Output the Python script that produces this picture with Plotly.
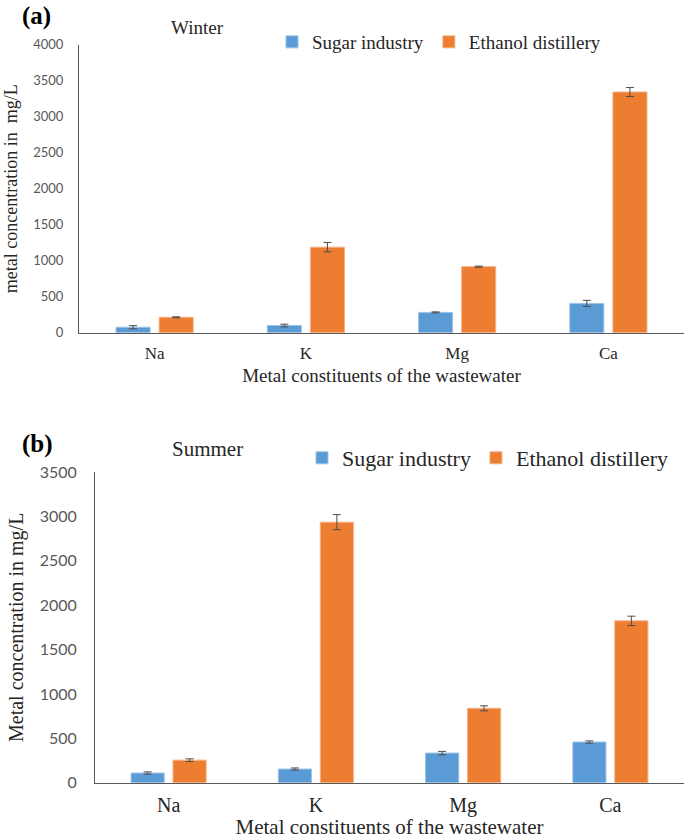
import plotly.graph_objects as go

metals = ["Na", "K", "Mg", "Ca"]

winter_sugar = [76, 100, 282, 407]
winter_sugar_err = [22, 18, 7, 42]
winter_ethanol = [214, 1188, 917, 3343]
winter_ethanol_err = [7, 65, 8, 62]

summer_sugar = [109, 154, 334, 458]
summer_sugar_err = [13, 12, 19, 13]
summer_ethanol = [254, 2935, 838, 1823]
summer_ethanol_err = [15, 85, 28, 53]

BLUE = "#5B9BD5"
ORANGE = "#ED7D31"
SERIF = "Liberation Serif"
SANS = "Lato"
W, H = 685, 839

fig = go.Figure()

def add(x, y, err, name, color, edge, xa, ya, legend):
    fig.add_trace(go.Bar(
        x=x, y=y, name=name, xaxis=xa, yaxis=ya, legend=legend,
        marker=dict(color=color, line=dict(color=edge, width=1)),
        error_y=dict(type="data", array=err, visible=True, color="#4d4d4d",
                     thickness=1, width=4),
        showlegend=True,
    ))

add(metals, winter_sugar, winter_sugar_err, "Sugar industry", BLUE, "#9DC3E6", "x", "y", "legend")
add(metals, winter_ethanol, winter_ethanol_err, "Ethanol distillery", ORANGE, "#F4B183", "x", "y", "legend")
add(metals, summer_sugar, summer_sugar_err, "Sugar industry", BLUE, "#9DC3E6", "x2", "y2", "legend2")
add(metals, summer_ethanol, summer_ethanol_err, "Ethanol distillery", ORANGE, "#F4B183", "x2", "y2", "legend2")

def py(p):
    return 1 - p / H

axis_common = dict(showgrid=False, zeroline=False, showline=True, linecolor="#595959",
                   linewidth=1, automargin=False)

def label(text, x, y, size, bold=False, color="#262626"):
    return dict(text=f"<b>{text}</b>" if bold else text, x=x / W, y=py(y),
                xref="paper", yref="paper", xanchor="center", yanchor="middle",
                showarrow=False, font=dict(family=SERIF, size=size, color=color))

fig.update_layout(
    width=W, height=H, autosize=False,
    margin=dict(l=0, r=0, t=0, b=0, autoexpand=False),
    paper_bgcolor="white", plot_bgcolor="white",
    barmode="group", bargap=0.43, bargroupgap=0.21,
    xaxis=dict(domain=[79 / W, 684 / W], anchor="y", type="category",
               ticks="", ticklabelstandoff=5,
               tickfont=dict(family=SERIF, size=17, color="#262626"),
               title=dict(text="Metal constituents of the wastewater", standoff=6,
                          font=dict(family=SERIF, size=19, color="#262626")),
               **axis_common),
    yaxis=dict(domain=[py(332.7), py(44.7)], anchor="x", range=[0, 4000], dtick=500,
               ticks="", ticklabelstandoff=12,
               tickfont=dict(family=SANS, size=13, color="#595959"),
               title=dict(text="metal concentration in  mg/L", standoff=10,
                          font=dict(family=SERIF, size=18, color="#262626")),
               **axis_common),
    xaxis2=dict(domain=[95 / W, 684 / W], anchor="y2", type="category",
                ticks="", ticklabelstandoff=4,
                tickfont=dict(family=SERIF, size=20, color="#262626"),
                title=dict(text="Metal constituents of the wastewater", standoff=4,
                           font=dict(family=SERIF, size=21, color="#262626")),
                **axis_common),
    yaxis2=dict(domain=[py(782.7), py(472)], anchor="x2", range=[0, 3500], dtick=500,
                ticks="", ticklabelstandoff=14,
                tickfont=dict(family=SANS, size=16, color="#595959"),
                title=dict(text="Metal concentration in mg/L", standoff=10,
                           font=dict(family=SERIF, size=20, color="#262626")),
                **axis_common),
    legend=dict(orientation="h", x=272 / W, y=py(42), xanchor="left", yanchor="middle",
                bgcolor="rgba(0,0,0,0)", font=dict(family=SERIF, size=19, color="#262626"),
                itemclick=False),
    legend2=dict(orientation="h", x=302 / W, y=py(458), xanchor="left", yanchor="middle",
                 bgcolor="rgba(0,0,0,0)", font=dict(family=SERIF, size=22, color="#262626"),
                 itemclick=False),
    annotations=[
        label("(a)", 36, 16, 25, bold=True, color="black"),
        label("Winter", 197, 28, 19),
        label("(b)", 37, 444, 25, bold=True, color="black"),
        label("Summer", 207, 449, 21),
    ],
)

fig.write_html("out.html", config={"displayModeBar": False},
               post_script="document.body.style.margin='0';")
